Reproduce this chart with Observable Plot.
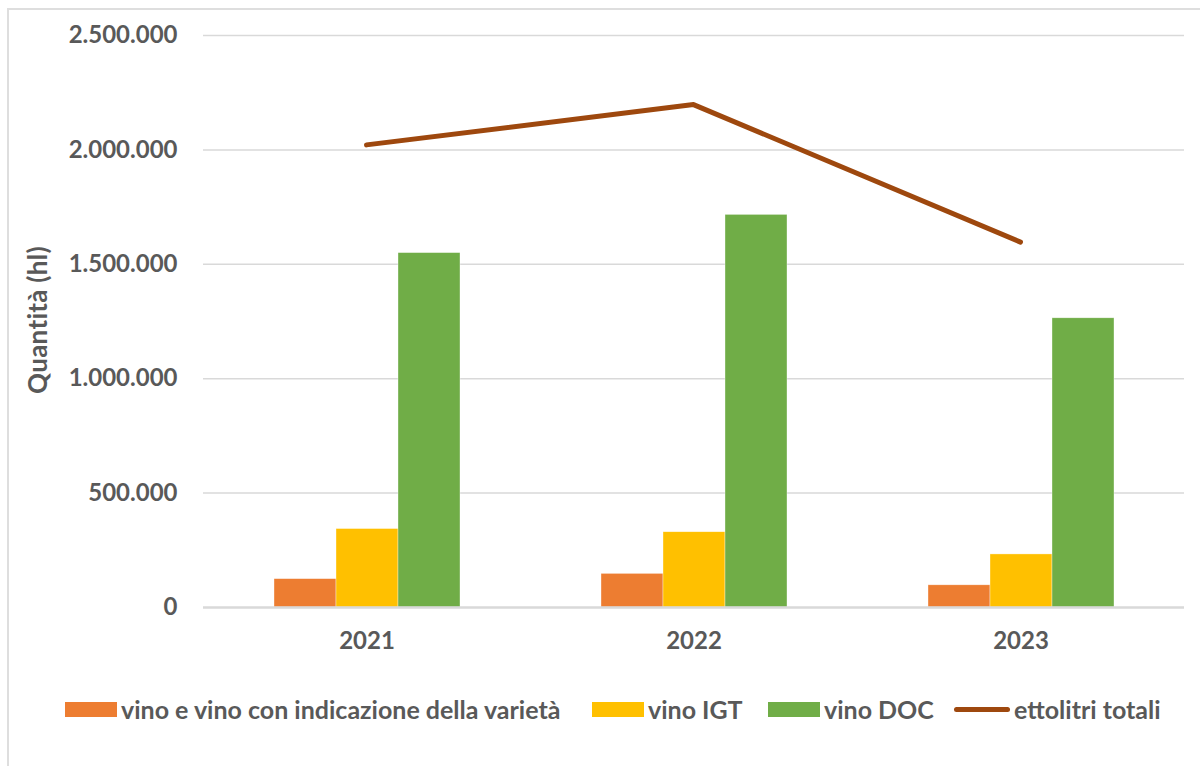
<!DOCTYPE html>
<html>
<head>
<meta charset="utf-8">
<script src="https://cdn.jsdelivr.net/npm/d3@7"></script>
<script src="https://cdn.jsdelivr.net/npm/@observablehq/plot@0.6"></script>
<style>
  html, body { margin: 0; padding: 0; background: #fff; }
  body { width: 1200px; height: 766px; overflow: hidden; font-family: Lato, "Open Sans", sans-serif; }
  #wrap { position: relative; width: 1200px; height: 766px; }
  #frame { position: absolute; left: 7px; top: 8px; width: 1300px; height: 900px; border: 2px solid #dedede; box-sizing: border-box; }
  .layer { position: absolute; left: 0; top: 0; }
  #ylabel { position: absolute; left: 37px; top: 320px; transform: translate(-50%, -50%) rotate(-90deg); font: bold 26px Lato, sans-serif; letter-spacing: 0.3px; color: #595959; white-space: nowrap; }
  .leg { position: absolute; top: 696px; height: 26px; display: flex; align-items: center; font: bold 25px Lato, sans-serif; color: #595959; white-space: nowrap; }
  .sw { width: 52px; height: 15px; margin-right: 4px; }
  .ln { width: 56px; height: 5px; border-radius: 3px; margin-right: 4px; }
</style>
</head>
<body>
<div id="wrap">
  <div id="frame"></div>
  <div id="bars" class="layer"></div>
  <div id="line" class="layer"></div>
  <div id="ylabel">Quantità (hl)</div>
  <div id="legend"></div>
</div>
<script>
// ---- data ----
const years = ["2021", "2022", "2023"];
const seriesNames = ["vino e vino con indicazione della varietà", "vino IGT", "vino DOC"];
const vinoVarieta = [124000, 147000, 97000];
const vinoIGT = [343000, 329000, 232000];
const vinoDOC = [1549000, 1716000, 1264000];
const totaleName = "ettolitri totali";
const ettolitriTotali = [2022000, 2198000, 1597000];
const yTicks = [0, 500000, 1000000, 1500000, 2000000, 2500000];
const seriesColors = ["#ED7D31", "#FFC000", "#70AD47"];
const lineColor = "#9E480E";

// ---- build tables ----
const seriesValues = [vinoVarieta, vinoIGT, vinoDOC];
const rows = [];
years.forEach((yr, i) => {
  seriesNames.forEach((s, j) => rows.push({year: yr, series: s, value: seriesValues[j][i]}));
});
const totals = years.map((yr, i) => ({year: yr, value: ettolitriTotali[i]}));

const it = d3.formatLocale({decimal: ",", thousands: ".", grouping: [3], currency: ["€", ""]});
const fmt = it.format(",d");

const W = 1200, H = 660;
const margins = {marginLeft: 202, marginRight: 16, marginTop: 35, marginBottom: 53};
const font = "bold 24px Lato, sans-serif";

const barsChart = Plot.plot({
  width: W, height: H, ...margins,
  style: {font, color: "#595959", background: "transparent", overflow: "visible"},
  fx: {domain: years, padding: 0, label: null, tickSize: 0, tickPadding: 24, axis: "bottom"},
  x: {domain: seriesNames, paddingInner: 0, paddingOuter: 1.1, axis: null},
  y: {domain: [0, 2500000], ticks: yTicks, tickFormat: fmt, tickSize: 0, tickPadding: 26, label: null},
  color: {domain: seriesNames, range: seriesColors},
  marks: [
    Plot.gridY(yTicks.filter(d => d > 0), {stroke: "#d9d9d9", strokeOpacity: 1, strokeWidth: 1.5}),
    Plot.barY(rows, {fx: "year", x: "series", y: "value", fill: "series", stroke: "#fff", strokeWidth: 0.6, strokeOpacity: 0.6}),
    Plot.ruleY([0], {stroke: "#d9d9d9", strokeWidth: 2.5})
  ]
});
document.getElementById("bars").appendChild(barsChart);

const lineChart = Plot.plot({
  width: W, height: H, ...margins,
  style: {background: "transparent", overflow: "visible"},
  x: {type: "point", domain: years, padding: 0.5, axis: null},
  y: {domain: [0, 2500000], axis: null},
  marks: [
    Plot.line(totals, {x: "year", y: "value", stroke: lineColor, strokeWidth: 5, strokeLinecap: "round", strokeLinejoin: "round"})
  ]
});
document.getElementById("line").appendChild(lineChart);

// ---- legend ----
const legend = document.getElementById("legend");
const legendLeft = [65, 592, 768, 954];
seriesNames.forEach((s, i) => {
  const item = document.createElement("div");
  item.className = "leg";
  item.style.left = legendLeft[i] + "px";
  const sw = document.createElement("div");
  sw.className = "sw";
  sw.style.background = seriesColors[i];
  const t = document.createElement("span");
  t.textContent = s;
  item.appendChild(sw); item.appendChild(t);
  legend.appendChild(item);
});
{
  const item = document.createElement("div");
  item.className = "leg";
  item.style.left = legendLeft[3] + "px";
  const ln = document.createElement("div");
  ln.className = "ln";
  ln.style.background = lineColor;
  const t = document.createElement("span");
  t.textContent = totaleName;
  item.appendChild(ln); item.appendChild(t);
  legend.appendChild(item);
}
</script>
</body>
</html>
